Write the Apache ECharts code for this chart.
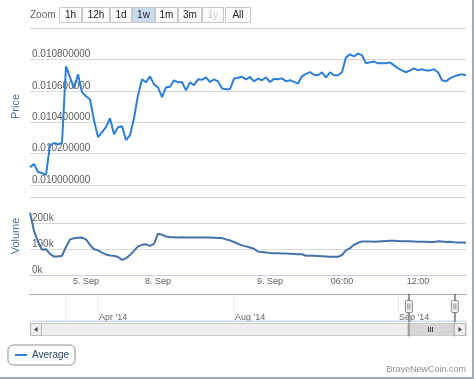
<!DOCTYPE html>
<html><head><meta charset="utf-8">
<script src="https://cdn.jsdelivr.net/npm/echarts@6/dist/echarts.min.js"></script>
<style>
html,body{margin:0;padding:0;background:#fff;}
#wrap{width:474px;height:379px;box-sizing:border-box;border-right:2px solid #a3abb3;border-bottom:2px solid #a3abb3;overflow:hidden;}
#chart{width:472px;height:377px;}
</style></head><body><div id="wrap"><div id="chart"></div></div>
<script>
// ---- data ----
const priceValues = [
0.010114,0.010133,0.010083,0.010076,0.010064,0.010254,0.010267,0.010260,0.010267,0.010756,
0.010686,0.010616,0.010705,0.010591,0.010565,0.010546,0.010413,0.010305,0.010337,0.010368,
0.010425,0.010324,0.010368,0.010375,0.010286,0.010318,0.010425,0.010572,0.010673,0.010654,
0.010692,0.010641,0.010622,0.010559,0.010622,0.010626,0.010667,0.010654,0.010656,0.010603,
0.010654,0.010635,0.010673,0.010670,0.010686,0.010656,0.010673,0.010660,0.010614,0.010610,
0.010610,0.010678,0.010683,0.010689,0.010673,0.010688,0.010660,0.010678,0.010667,0.010686,
0.010656,0.010676,0.010673,0.010679,0.010660,0.010667,0.010657,0.010646,0.010692,0.010708,
0.010719,0.010702,0.010699,0.010718,0.010686,0.010718,0.010699,0.010699,0.010718,0.010813,
0.010832,0.010819,0.010838,0.010826,0.010775,0.010781,0.010787,0.010775,0.010775,0.010775,
0.010781,0.010762,0.010743,0.010730,0.010718,0.010730,0.010743,0.010730,0.010737,0.010730,
0.010730,0.010737,0.010718,0.010667,0.010660,0.010679,0.010692,0.010699,0.010705,0.010699
];
const volumeValues = [
240000,170000,128000,97000,99000,81000,71000,71000,74000,108000,
137000,141000,143000,144000,137000,116000,99000,95000,86000,79000,
75000,74000,69000,58000,64000,77000,93000,110000,116000,118000,
112000,120000,159000,155000,148000,145000,145000,144000,145000,144000,
144000,144000,144000,144000,144000,144000,143000,142000,142000,137000,
133000,127000,120000,114000,110000,106000,101000,90000,88000,87000,
85000,84000,84000,83000,83000,82000,81000,80000,80000,74000,
74000,74000,73000,72000,71000,70000,70000,70000,77000,95000,
103000,116000,124000,129000,129000,129000,128000,129000,130000,131000,
132000,132000,131000,130000,130000,130000,129000,128000,128000,128000,
127000,127000,130000,129000,127000,128000,126000,125000,125000,124000
];
const xTickIndex = [14, 32, 60, 78, 97];
const xTickText = ['5. Sep', '8. Sep', '9. Sep', '06:00', '12:00'];
const priceTicks = {min: 0.0100, max: 0.0110, step: 0.0002};
const volumeTicks = {min: 0, max: 300000, step: 100000};

const navValues = [
3,3,3,3,3,3,3,3,3,3, 3,3,3,3,3,3,3,3,3,3,
3,3,3,3,3,3,3,3,3,3, 3,3,3,3,3,3,3,3,3,3,
3,3,3,3,3,3,3,3,3,3, 3,3,3,3,3,3,3,3,3,3,
3,3,3,3,3,3,3,3,3,3, 3,3,3,3,3,3,3,3,3,3,
3,3,3,3,3,3,3,3,3,3, 3,3,3,3,3,3,3,3,3,3,
3,3,3,3,3,3,3,3,3,3
];
const navTickIndex = [9, 17, 51, 92];
const navTickText = ['', "Apr '14", "Aug '14", "Sep '14"];
const navRange = {start: 86.5, end: 97.5};
const zoomButtons = ['1h', '12h', '1d', '1w', '1m', '3m', '1y', 'All'];
const zoomSelected = '1w';
const zoomDisabled = '1y';

// ---- chart ----
const cats = priceValues.map((_, i) => String(i));
const navCats = navValues.map((_, i) => String(i));
const FONT = 'Liberation Sans, Arial, sans-serif';

const btnX = [59, 82, 110, 132, 155, 178, 202, 225];
const btnW = [22, 27, 21, 22, 22, 23, 21, 25];
const graphics = [];
graphics.push({type: 'text', x: 30, y: 15, style: {text: 'Zoom', fill: '#666', font: '10px ' + FONT, textVerticalAlign: 'middle', verticalAlign: 'middle'}});
zoomButtons.forEach((b, k) => {
  const sel = b === zoomSelected, dis = b === zoomDisabled;
  graphics.push({type: 'rect', shape: {x: btnX[k] + 0.5, y: 7.5, width: btnW[k], height: 15},
    style: {fill: sel ? '#c8dcf0' : '#fbfbfb', stroke: '#c8c8c8', lineWidth: 1}});
  graphics.push({type: 'text', x: btnX[k] + btnW[k] / 2 + 0.5, y: 15.5,
    style: {text: b, fill: dis ? '#cccccc' : '#222', font: '10px ' + FONT,
      textAlign: 'center', align: 'center', textVerticalAlign: 'middle', verticalAlign: 'middle'}});
});
// scrollbar buttons
graphics.push({type: 'rect', shape: {x: 30.5, y: 323.5, width: 11, height: 12}, style: {fill: '#ececec', stroke: '#b8b8b8'}, z: 10});
graphics.push({type: 'polygon', shape: {points: [[37.5, 327], [37.5, 332], [34, 329.5]]}, style: {fill: '#444'}, z: 11});
graphics.push({type: 'rect', shape: {x: 454.5, y: 323.5, width: 11, height: 12}, style: {fill: '#ececec', stroke: '#b8b8b8'}, z: 10});
graphics.push({type: 'polygon', shape: {points: [[458.5, 327], [458.5, 332], [462, 329.5]]}, style: {fill: '#444'}, z: 11});
[428.5, 430.5, 432.5].forEach(x => graphics.push({type: 'line', shape: {x1: x, y1: 327, x2: x, y2: 332}, style: {stroke: '#444', lineWidth: 1}, z: 11}));

const handlePath = 'path://M3.5,0h1v9.5h-1z M3.5,21.5h1v6.5h-1z M1.5,9.5h5a1,1 0 0 1 1,1v10a1,1 0 0 1 -1,1h-5a1,1 0 0 1 -1,-1v-10a1,1 0 0 1 1,-1z M3,12.5v6 M5,12.5v6';

const option = {
  animation: false,
  textStyle: {fontFamily: FONT},
  title: {text: 'BraveNewCoin.com', right: 6, bottom: 3, padding: 0,
    textStyle: {fontSize: 9, color: '#909090', fontWeight: 'normal', fontFamily: FONT}},
  legend: {data: ['Average'], left: 8, top: 345, padding: [5, 6, 5, 7], borderColor: '#909090', borderWidth: 1, borderRadius: 5,
    icon: 'rect', itemWidth: 12, itemHeight: 2, textStyle: {fontSize: 10, color: '#274b6d', fontFamily: FONT}},
  grid: [
    {left: 30, right: 6, top: 28, height: 157},
    {left: 30, right: 6, top: 197, height: 78},
    {left: 30, right: 6, top: 294, height: 28}
  ],
  xAxis: [
    {type: 'category', gridIndex: 0, data: cats, boundaryGap: false, axisLine: {show: false}, axisTick: {show: false}, axisLabel: {show: false}},
    {type: 'category', gridIndex: 1, data: cats, boundaryGap: false, axisLine: {lineStyle: {color: '#c0d0e0'}}, axisTick: {show: false},
      axisLabel: {interval: (i) => xTickIndex.includes(i), formatter: (v, i) => xTickText[xTickIndex.indexOf(i)] || '', fontSize: 9, color: '#606060', margin: 2}},
    {type: 'category', gridIndex: 2, data: navCats, boundaryGap: false, axisLine: {show: false}, axisTick: {show: false},
      axisLabel: {inside: true, interval: (i) => navTickIndex.includes(i), formatter: (v, i) => navTickText[navTickIndex.indexOf(i)] || '',
        align: 'left', padding: [0, 0, 0, 1], margin: 0, verticalAlign: 'bottom', fontSize: 9, color: '#666'},
      splitLine: {show: true, interval: (i) => navTickIndex.includes(i), lineStyle: {color: '#ececec'}}},
    {type: 'category', gridIndex: 2, data: navCats, boundaryGap: false, position: 'top', axisLine: {show: true, lineStyle: {color: '#a8a8b0'}}, axisTick: {show: false}, axisLabel: {show: false}}
  ],
  yAxis: [
    {type: 'value', gridIndex: 0, min: priceTicks.min, max: priceTicks.max, interval: priceTicks.step,
      axisLine: {show: false}, axisTick: {show: false}, splitLine: {lineStyle: {color: '#d8d8d8'}},
      axisLabel: {inside: true, margin: 2, verticalAlign: 'bottom', fontSize: 10, color: '#606060',
        formatter: (v) => v > priceTicks.max - priceTicks.step / 2 ? '' : v.toFixed(9)},
      name: 'Price', nameLocation: 'middle', nameGap: 7, nameTextStyle: {color: '#4d759e', fontSize: 11, fontFamily: FONT}},
    {type: 'value', gridIndex: 1, min: volumeTicks.min, max: volumeTicks.max, interval: volumeTicks.step,
      axisLine: {show: false}, axisTick: {show: false}, splitLine: {lineStyle: {color: '#d8d8d8'}},
      axisLabel: {inside: true, margin: 2, verticalAlign: 'bottom', fontSize: 10, color: '#606060',
        formatter: (v) => v > volumeTicks.max - volumeTicks.step / 2 ? '' : (v / 1000) + 'k'},
      name: 'Volume', nameLocation: 'middle', nameGap: 7, nameTextStyle: {color: '#4d759e', fontSize: 11, fontFamily: FONT}},
    {type: 'value', gridIndex: 2, min: 0, max: 100, show: false}
  ],
  dataZoom: [
    {type: 'slider', xAxisIndex: 3, start: navRange.start, end: navRange.end, left: 30, right: 6, top: 294, height: 28,
      showDetail: false, showDataShadow: false, brushSelect: false, moveHandleSize: 0,
      backgroundColor: 'rgba(0,0,0,0)', borderColor: 'rgba(0,0,0,0)', fillerColor: 'rgba(255,255,255,0)',
      handleIcon: handlePath, handleSize: '100%', handleStyle: {color: '#f4f4f4', borderColor: '#888', borderWidth: 1},
      emphasis: {handleStyle: {color: '#f4f4f4', borderColor: '#888'}}},
    {type: 'slider', xAxisIndex: 3, start: navRange.start, end: navRange.end, left: 30, right: 6, top: 323, height: 13,
      showDetail: false, showDataShadow: false, brushSelect: false, moveHandleSize: 0, zoomLock: true,
      backgroundColor: '#eeeeee', borderColor: '#cccccc', fillerColor: '#d6d6d6',
      handleIcon: 'path://M0,0h1v13h-1z', handleSize: '100%', handleStyle: {color: '#999', borderColor: '#999'}}
  ],
  series: [
    {name: 'Average', type: 'line', xAxisIndex: 0, yAxisIndex: 0, data: priceValues, symbol: 'none', color: '#2f7ed8', lineStyle: {width: 2, color: '#2f7ed8'}, z: 3},
    {name: 'Volume', type: 'line', xAxisIndex: 1, yAxisIndex: 1, data: volumeValues, symbol: 'none', color: '#4572a7', lineStyle: {width: 2, color: '#4572a7'}},
    {name: 'Navigator', type: 'line', xAxisIndex: 2, yAxisIndex: 2, data: navValues, symbol: 'none', color: '#b5cde8', lineStyle: {width: 1, color: '#b5cde8'}},
    {name: 'NavHidden', type: 'line', xAxisIndex: 3, yAxisIndex: 2, data: navValues, symbol: 'none', lineStyle: {opacity: 0}, silent: true}
  ],
  graphic: graphics
};
const chart = echarts.init(document.getElementById('chart'));
chart.setOption(option);
</script></body></html>
